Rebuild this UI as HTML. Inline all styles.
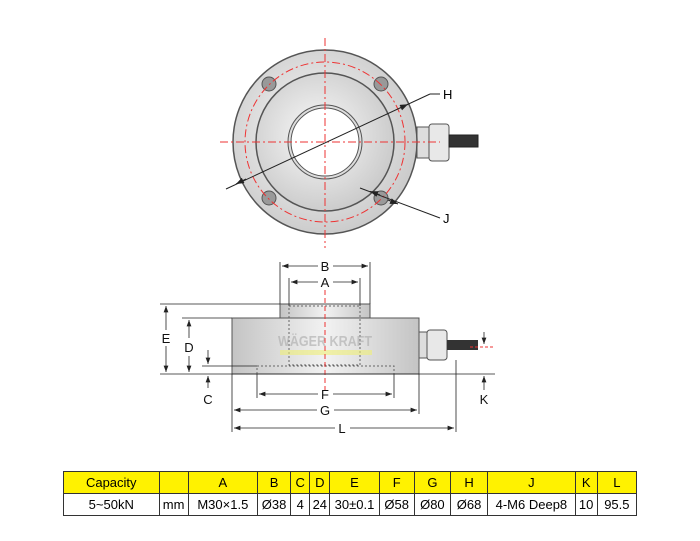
<!DOCTYPE html>
<html><head><meta charset="utf-8"><style>
body{margin:0;background:#fff;width:700px;height:541px;overflow:hidden;font-family:"Liberation Sans",sans-serif}
svg{position:absolute;left:0;top:0}
table{position:absolute;left:63px;top:471px;width:574px;border-collapse:collapse;font-size:13px;font-family:"Liberation Sans",sans-serif}
td{border:1px solid #333;height:21px;padding:0;text-align:center}
tr.h td{background:#fff200}
</style></head><body>
<svg width="700" height="541" viewBox="0 0 700 541">
<defs>
<radialGradient id="g1" cx="0.45" cy="0.45" r="0.6"><stop offset="0" stop-color="#fafafa"/><stop offset="1" stop-color="#c8c8c8"/></radialGradient>
<linearGradient id="g2" x1="0" y1="0" x2="1" y2="0"><stop offset="0" stop-color="#c4c4c4"/><stop offset="0.5" stop-color="#f2f2f2"/><stop offset="1" stop-color="#c4c4c4"/></linearGradient>
<marker id="ar" markerWidth="8" markerHeight="6" refX="8" refY="3" orient="auto-start-reverse"><path d="M0,0 L8,3 L0,6z" fill="#222"/></marker>
</defs>
<g stroke="#555">
<rect x="417" y="127" width="12" height="31" fill="#ddd" stroke-width="1"/>
<rect x="429" y="124" width="20" height="37" rx="3" fill="#e8e8e8"/>
<rect x="449" y="135" width="29" height="12" fill="#333" stroke="#222"/>
<circle cx="325" cy="142" r="92" fill="url(#g1)" stroke-width="1.5"/>
<circle cx="325" cy="142" r="69" fill="url(#g1)" stroke-width="1.5"/>
<circle cx="325" cy="142" r="37" fill="#ddd" stroke-width="1"/>
<circle cx="325" cy="142" r="34" fill="#fff" stroke-width="1"/>
</g>
<g fill="#999" stroke="#555">
<circle cx="269" cy="84" r="7"/><circle cx="381" cy="84" r="7"/>
<circle cx="269" cy="198" r="7"/><circle cx="381" cy="198" r="7"/>
</g>
<g stroke="#e33" stroke-dasharray="8,3,2,3" fill="none" stroke-width="1">
<circle cx="325" cy="142" r="80"/>
<line x1="220" y1="142" x2="440" y2="142"/>
<line x1="325" y1="38" x2="325" y2="248"/>
</g>
<g stroke="#222" stroke-width="1" fill="none">
<line x1="226" y1="189" x2="430" y2="94"/>
<line x1="236" y1="184" x2="246" y2="179" marker-end="url(#ar)" transform="rotate(180 241 181.5)"/>
<line x1="400" y1="108" x2="408" y2="104.3" marker-end="url(#ar)"/>
<polyline points="430,94 440,94"/>
<line x1="360" y1="188" x2="440" y2="218"/>
<line x1="380" y1="195" x2="370" y2="191.3" marker-end="url(#ar)"/>
<line x1="388" y1="200" x2="398" y2="204" marker-end="url(#ar)"/>
</g>
<text x="443" y="99" font-size="13">H</text>
<text x="443" y="223" font-size="13">J</text>
<rect x="419" y="332" width="8" height="26" fill="#ddd" stroke="#555"/>
<rect x="427" y="330" width="20" height="30" rx="3" fill="#e8e8e8" stroke="#555"/>
<rect x="447" y="340" width="31" height="10" fill="#333"/>
<rect x="280" y="304" width="90" height="14" fill="url(#g2)" stroke="#555"/>
<rect x="232" y="318" width="187" height="56" fill="url(#g2)" stroke="#555"/>
<rect x="289" y="306" width="71" height="59" fill="none" stroke="#666" stroke-dasharray="2,2"/>
<polyline points="257,374 257,366 394,366 394,374" fill="none" stroke="#666" stroke-dasharray="2,2"/>
<text x="278" y="346" font-size="15" font-weight="bold" fill="#aaa" opacity="0.6" textLength="94" lengthAdjust="spacingAndGlyphs">WÄGER KRAFT</text>
<rect x="280" y="350" width="92" height="5" fill="#ee7" opacity="0.6"/>
<line x1="325" y1="290" x2="325" y2="390" stroke="#e33" stroke-dasharray="5,3"/>
<g stroke="#222" stroke-width="0.8" fill="none">
<line x1="280" y1="262" x2="280" y2="304"/><line x1="370" y1="262" x2="370" y2="304"/>
<line x1="289" y1="278" x2="289" y2="306"/><line x1="360" y1="278" x2="360" y2="306"/>
<line x1="282" y1="266" x2="318" y2="266" marker-start="url(#ar)"/><line x1="333" y1="266" x2="368" y2="266" marker-end="url(#ar)"/>
<line x1="291" y1="282" x2="318" y2="282" marker-start="url(#ar)"/><line x1="333" y1="282" x2="358" y2="282" marker-end="url(#ar)"/>
<line x1="160" y1="304" x2="280" y2="304"/><line x1="182" y1="318" x2="232" y2="318"/>
<line x1="160" y1="374" x2="495" y2="374"/><line x1="202" y1="366" x2="257" y2="366"/>
<line x1="166" y1="306" x2="166" y2="330" marker-start="url(#ar)"/><line x1="166" y1="346" x2="166" y2="372" marker-end="url(#ar)"/>
<line x1="189" y1="320" x2="189" y2="338" marker-start="url(#ar)"/><line x1="189" y1="356" x2="189" y2="372" marker-end="url(#ar)"/>
<line x1="208" y1="350" x2="208" y2="364" marker-end="url(#ar)"/><line x1="208" y1="388" x2="208" y2="376" marker-end="url(#ar)"/>
<line x1="484" y1="332" x2="484" y2="344" marker-end="url(#ar)"/><line x1="484" y1="390" x2="484" y2="376" marker-end="url(#ar)"/>
<line x1="257" y1="374" x2="257" y2="398"/><line x1="394" y1="374" x2="394" y2="398"/>
<line x1="232" y1="374" x2="232" y2="432"/><line x1="419" y1="374" x2="419" y2="414"/><line x1="456" y1="360" x2="456" y2="432"/>
<line x1="259" y1="394" x2="318" y2="394" marker-start="url(#ar)"/><line x1="333" y1="394" x2="392" y2="394" marker-end="url(#ar)"/>
<line x1="234" y1="410" x2="317" y2="410" marker-start="url(#ar)"/><line x1="334" y1="410" x2="417" y2="410" marker-end="url(#ar)"/>
<line x1="234" y1="428" x2="335" y2="428" marker-start="url(#ar)"/><line x1="350" y1="428" x2="454" y2="428" marker-end="url(#ar)"/>
</g>
<line x1="470" y1="347" x2="495" y2="347" stroke="#e33" stroke-dasharray="3,2"/>
<g font-size="13" fill="#111" text-anchor="middle">
<text x="325" y="271">B</text><text x="325" y="287">A</text>
<text x="166" y="343">E</text><text x="189" y="352">D</text><text x="208" y="404">C</text><text x="484" y="404">K</text>
<text x="325" y="399">F</text><text x="325" y="415">G</text><text x="342" y="433">L</text>
</g>
</svg>
<table>
<tr class="h"><td style="width:94px">Capacity</td><td style="width:28px"></td><td style="width:68px">A</td><td style="width:32px">B</td><td style="width:18px">C</td><td style="width:19px">D</td><td style="width:48px">E</td><td style="width:34px">F</td><td style="width:35px">G</td><td style="width:36px">H</td><td style="width:86px">J</td><td style="width:21px">K</td><td style="width:38px">L</td></tr>
<tr><td>5~50kN</td><td>mm</td><td>M30×1.5</td><td>Ø38</td><td>4</td><td>24</td><td>30±0.1</td><td>Ø58</td><td>Ø80</td><td>Ø68</td><td>4-M6 Deep8</td><td>10</td><td>95.5</td></tr>
</table>
</body></html>
